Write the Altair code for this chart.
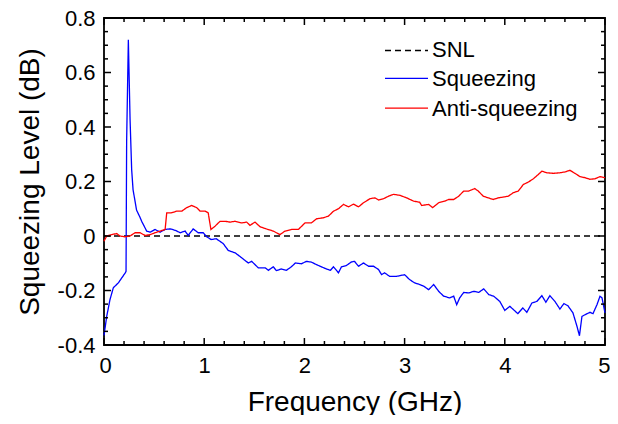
import altair as alt
import pandas as pd

# ---------------- data ----------------
series_names = ["SNL", "Squeezing", "Anti-squeezing"]
series_colors = ["#000000", "#0000FF", "#FF0000"]

snl_freq = [0.0, 5.0]
snl_level = [0.0, 0.0]

sq_freq = [0.000, 0.027, 0.060, 0.093, 0.143, 0.177, 0.212, 0.220, 0.226, 0.243,
           0.260, 0.276, 0.290, 0.325, 0.360, 0.376, 0.426, 0.460, 0.510, 0.560,
           0.610, 0.660, 0.710, 0.760, 0.810, 0.840, 0.890, 0.940, 0.990, 1.025,
           1.070, 1.120, 1.190, 1.240, 1.310, 1.374, 1.440, 1.474, 1.540, 1.610,
           1.640, 1.690, 1.720, 1.770, 1.820, 1.870, 1.910, 1.970, 2.020, 2.070,
           2.120, 2.170, 2.220, 2.260, 2.290, 2.340, 2.370, 2.420, 2.470, 2.500,
           2.540, 2.590, 2.640, 2.690, 2.740, 2.770, 2.800, 2.850, 2.920, 3.000,
           3.050, 3.100, 3.150, 3.190, 3.240, 3.290, 3.340, 3.390, 3.450, 3.490,
           3.520, 3.550, 3.590, 3.640, 3.690, 3.740, 3.790, 3.840, 3.890, 3.950,
           4.000, 4.050, 4.080, 4.130, 4.180, 4.220, 4.270, 4.320, 4.370, 4.410,
           4.450, 4.500, 4.550, 4.590, 4.630, 4.680, 4.720, 4.745, 4.770, 4.800,
           4.850, 4.880, 4.920, 4.950, 4.970, 5.000]
sq_level = [-0.365, -0.295, -0.233, -0.190, -0.172, -0.154, -0.135, -0.130, 0.350, 0.720,
            0.430, 0.244, 0.170, 0.095, 0.068, 0.054, 0.018, 0.014, 0.024, 0.014,
            0.024, 0.026, 0.021, 0.012, 0.018, 0.002, 0.026, 0.012, 0.012, -0.003,
            -0.013, -0.010, -0.028, -0.053, -0.062, -0.080, -0.099, -0.093, -0.117, -0.117,
            -0.126, -0.113, -0.127, -0.121, -0.126, -0.113, -0.099, -0.102, -0.093, -0.096,
            -0.105, -0.113, -0.121, -0.126, -0.113, -0.135, -0.113, -0.108, -0.095, -0.093,
            -0.111, -0.099, -0.111, -0.111, -0.123, -0.142, -0.135, -0.148, -0.148, -0.142,
            -0.160, -0.172, -0.178, -0.184, -0.197, -0.178, -0.203, -0.221, -0.227, -0.221,
            -0.252, -0.227, -0.207, -0.209, -0.203, -0.207, -0.194, -0.215, -0.221, -0.240,
            -0.273, -0.258, -0.268, -0.285, -0.264, -0.280, -0.246, -0.240, -0.219, -0.243,
            -0.219, -0.240, -0.268, -0.248, -0.256, -0.282, -0.331, -0.366, -0.295, -0.289,
            -0.280, -0.285, -0.252, -0.221, -0.227, -0.282]

anti_freq = [0.000, 0.027, 0.077, 0.126, 0.160, 0.210, 0.260, 0.310, 0.360, 0.410,
             0.460, 0.510, 0.560, 0.610, 0.626, 0.670, 0.725, 0.775, 0.825, 0.875,
             0.925, 0.960, 1.010, 1.040, 1.067, 1.108, 1.158, 1.210, 1.257, 1.307,
             1.374, 1.424, 1.457, 1.507, 1.557, 1.620, 1.690, 1.756, 1.806, 1.873,
             1.940, 2.006, 2.070, 2.120, 2.190, 2.240, 2.290, 2.340, 2.390, 2.440,
             2.490, 2.540, 2.590, 2.655, 2.705, 2.740, 2.790, 2.840, 2.890, 2.955,
             3.020, 3.090, 3.150, 3.170, 3.240, 3.280, 3.340, 3.400, 3.440, 3.490,
             3.540, 3.590, 3.640, 3.700, 3.735, 3.785, 3.835, 3.885, 3.935, 3.985,
             4.035, 4.085, 4.135, 4.185, 4.235, 4.285, 4.335, 4.370, 4.420, 4.485,
             4.550, 4.600, 4.650, 4.700, 4.750, 4.800, 4.850, 4.900, 4.950, 5.000]
anti_level = [-0.019, 0.000, 0.005, 0.009, 0.000, -0.003, 0.000, 0.012, 0.012, 0.002,
              0.005, 0.012, 0.018, 0.024, 0.085, 0.085, 0.091, 0.091, 0.104, 0.112,
              0.104, 0.091, 0.091, 0.085, 0.024, 0.036, 0.054, 0.054, 0.051, 0.054,
              0.048, 0.051, 0.039, 0.051, 0.034, 0.026, 0.018, 0.005, 0.018, 0.024,
              0.024, 0.048, 0.048, 0.063, 0.067, 0.073, 0.091, 0.100, 0.116, 0.107,
              0.117, 0.107, 0.122, 0.137, 0.140, 0.132, 0.137, 0.146, 0.153, 0.149,
              0.140, 0.128, 0.124, 0.112, 0.116, 0.104, 0.122, 0.128, 0.134, 0.134,
              0.146, 0.165, 0.165, 0.174, 0.165, 0.146, 0.140, 0.134, 0.140, 0.143,
              0.146, 0.159, 0.165, 0.189, 0.198, 0.210, 0.226, 0.238, 0.232, 0.230,
              0.232, 0.235, 0.241, 0.230, 0.218, 0.214, 0.208, 0.210, 0.218, 0.214]

x_major = [0, 1, 2, 3, 4, 5]
x_minor = [0.2, 0.4, 0.6, 0.8, 1.2, 1.4, 1.6, 1.8, 2.2, 2.4, 2.6, 2.8,
           3.2, 3.4, 3.6, 3.8, 4.2, 4.4, 4.6, 4.8]
y_major = [-0.4, -0.2, 0.0, 0.2, 0.4, 0.6, 0.8]
y_minor = [-0.35, -0.3, -0.25, -0.15, -0.1, -0.05, 0.05, 0.1, 0.15,
           0.25, 0.3, 0.35, 0.45, 0.5, 0.55, 0.65, 0.7, 0.75]

# ---------------- build table ----------------
rows = []
for name, fs, ls in [("SNL", snl_freq, snl_level),
                     ("Squeezing", sq_freq, sq_level),
                     ("Anti-squeezing", anti_freq, anti_level)]:
    for f, l in zip(fs, ls):
        rows.append({"freq": f, "level": l, "series": name})
df = pd.DataFrame(rows)

W, H = 501, 327
FONT = "Liberation Sans"
MAJ, MIN = 7, 4
TW = 1.5
DASHES = [[6, 4], [1, 0], [1, 0]]

xs = alt.Scale(domain=[0, 5], nice=False, zero=False)
ys = alt.Scale(domain=[-0.4, 0.8], nice=False, zero=False)
cs = alt.Scale(domain=series_names, range=series_colors)
ds = alt.Scale(domain=series_names, range=DASHES)

xaxis = alt.Axis(
    values=x_major, format="d", title="Frequency (GHz)",
    ticks=False, tickSize=0, domain=False, grid=False,
    labelFlush=True, labelFlushOffset=5,
    labelFont=FONT, labelFontSize=22, labelColor="black", labelPadding=10,
    titleFont=FONT, titleFontSize=28, titleFontWeight="normal", titleColor="black",
    titlePadding=12)
yaxis = alt.Axis(
    values=y_major, title="Squeezing Level (dB)",
    labelExpr="datum.value == 0 ? '0' : (datum.value < 0 ? '-' + format(-datum.value, '.1f') : format(datum.value, '.1f'))",
    ticks=False, tickSize=0, domain=False, grid=False, labelFlush=False,
    labelFont=FONT, labelFontSize=22, labelColor="black", labelPadding=9,
    titleFont=FONT, titleFontSize=28, titleFontWeight="normal", titleColor="black",
    titlePadding=13)

lines = alt.Chart(df).mark_line(strokeWidth=1.3).encode(
    x=alt.X("freq:Q", scale=xs, axis=xaxis),
    y=alt.Y("level:Q", scale=ys, axis=yaxis),
    color=alt.Color("series:N", scale=cs, legend=None),
    strokeDash=alt.StrokeDash("series:N", scale=ds, legend=None),
    detail="series:N",
)

xmaj = pd.DataFrame({"freq": x_major})
xmin = pd.DataFrame({"freq": x_minor})
ymaj = pd.DataFrame({"level": y_major})
ymin = pd.DataFrame({"level": y_minor})


def xticks(d, L):
    base = alt.Chart(d).mark_rule(color="black", strokeWidth=TW)
    enc = alt.X("freq:Q", scale=xs, axis=xaxis)
    b = base.encode(x=enc, y=alt.value(H), y2=alt.value(H - L))
    t = base.encode(x=enc, y=alt.value(0), y2=alt.value(L))
    return [b, t]


def yticks(d, L):
    base = alt.Chart(d).mark_rule(color="black", strokeWidth=TW)
    enc = alt.Y("level:Q", scale=ys, axis=yaxis)
    l = base.encode(y=enc, x=alt.value(0), x2=alt.value(L))
    r = base.encode(y=enc, x=alt.value(W), x2=alt.value(W - L))
    return [l, r]


# ---- legend (drawn inside the plot, top right) ----
LEG_X0, LEG_X1, LEG_TX = 281, 324, 328
LEG_ROW0, LEG_STEP = 30.5, 29.8
legend_layers = []
for i, name in enumerate(series_names):
    ld = pd.DataFrame({"series": [name]})
    yc = LEG_ROW0 + LEG_STEP * i
    sym = alt.Chart(ld).mark_rule(strokeWidth=1.3).encode(
        x=alt.value(LEG_X0), x2=alt.value(LEG_X1),
        y=alt.value(yc + (2 if i == 0 else 0)),
        color=alt.Color("series:N", scale=cs, legend=None),
        strokeDash=alt.StrokeDash("series:N", scale=ds, legend=None),
    )
    txt = alt.Chart(ld).mark_text(align="left", baseline="middle", font=FONT,
                                  fontSize=22, color="black").encode(
        x=alt.value(LEG_TX), y=alt.value(yc + 1), text="series:N")
    legend_layers += [sym, txt]

layers = ([lines] + xticks(xmaj, MAJ) + xticks(xmin, MIN) + yticks(ymaj, MAJ)
          + yticks(ymin, MIN) + legend_layers)

chart = alt.layer(*layers).properties(
    width=W, height=H,
    autosize=alt.AutoSizeParams(type="none"),
    padding={"left": 96, "top": 10, "right": 5, "bottom": 70},
    background="white",
).configure_view(stroke="black", strokeWidth=1.8)

chart.save("out.html", embed_options={"renderer": "svg", "actions": False})
